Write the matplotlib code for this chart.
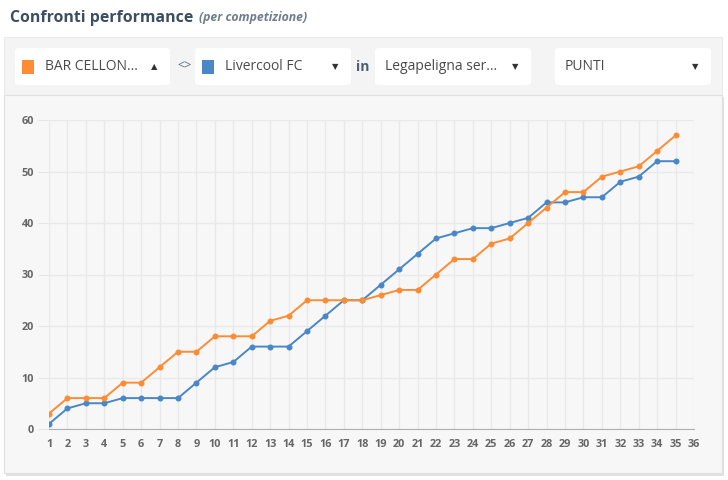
import matplotlib.pyplot as plt
from matplotlib.patches import FancyBboxPatch, Rectangle

plt.rcParams['font.family'] = ['Open Sans', 'DejaVu Sans']

# giornate e punti cumulati
giornate = list(range(1, 36))
punti_bar = [3, 6, 6, 6, 9, 9, 12, 15, 15, 18, 18, 18, 21, 22, 25, 25, 25, 25, 26, 27,
             27, 30, 33, 33, 36, 37, 40, 43, 46, 46, 49, 50, 51, 54, 57]
punti_liver = [1, 4, 5, 5, 6, 6, 6, 6, 9, 12, 13, 16, 16, 16, 19, 22, 25, 25, 28, 31,
               34, 37, 38, 39, 39, 40, 41, 44, 44, 45, 45, 48, 49, 52, 52]
x_ticks = list(range(1, 37))
y_ticks = [0, 10, 20, 30, 40, 50, 60]

ORANGE = '#fd8c34'
BLUE = '#4a87c6'
W, H = 728, 480

fig = plt.figure(figsize=(W / 100, H / 100), dpi=100)
fig.patch.set_facecolor('white')


def fx(x):
    return x / W


def fy(y):
    return 1 - y / H


def box(x0, y0, x1, y1, fc, ec='none', rounded=False, z=0):
    if rounded:
        p = FancyBboxPatch((fx(x0), fy(y1)), fx(x1 - x0), (y1 - y0) / H,
                           boxstyle='round,pad=0,rounding_size=0.006',
                           transform=fig.transFigure, fc=fc, ec=ec, lw=0.8, zorder=z)
    else:
        p = Rectangle((fx(x0), fy(y1)), fx(x1 - x0), (y1 - y0) / H,
                      transform=fig.transFigure, fc=fc, ec=ec, lw=0.8, zorder=z)
    fig.patches.append(p)


# title, with the subtitle placed right after it
title = fig.text(fx(10), fy(18), 'Confronti performance', fontsize=11.4, fontweight='bold',
                 color='#3b4f63', va='center', ha='left')
renderer = fig.canvas.get_renderer()
x_end = title.get_window_extent(renderer).x1
fig.text(fx(x_end + 6), fy(18), '(per competizione)', fontsize=8.8, fontstyle='italic',
         fontweight='bold', color='#6f7e8c', va='center', ha='left')

# controls panel
box(4, 37, 722, 95, '#f4f4f4', '#e9e9e9')
selects = [(15, 170, 'BAR CELLON...', ORANGE, '▲'),
           (195, 351, 'Livercool FC', BLUE, '▼'),
           (375, 531, 'Legapeligna ser...', None, '▼'),
           (555, 711, 'PUNTI', None, '▼')]
for x0, x1, label, col, arrow in selects:
    box(x0, 48, x1, 85, 'white', rounded=True, z=1)
    tx = x0 + 10
    if col is not None:
        box(x0 + 7, 60, x0 + 19, 74, col, z=2)
        tx = x0 + 30
    fig.text(fx(tx), fy(67), label, fontsize=10, color='#4a4a4a', va='center', ha='left', zorder=3)
    fig.text(fx(x1 - 16), fy(67), arrow, fontsize=6, color='#333333', va='center',
             ha='center', family='DejaVu Sans', zorder=3)
fig.text(fx(184), fy(66), '<>', fontsize=9, color='#5a6f86', va='center', ha='center')
fig.text(fx(363), fy(67), 'in', fontsize=10, fontweight='bold', color='#4e5f70',
         va='center', ha='center')

# chart panel
box(6, 97, 724, 476, '#e2e2e2')
box(4, 95, 722, 473, '#f7f7f7', '#e0e0e0')

ax = fig.add_axes([fx(49), fy(429), fx(694 - 49), (429 - 120) / H])
ax.set_zorder(5)
ax.set_facecolor('none')
ax.set_xlim(1, 36)
ax.set_ylim(0, 60)
ax.set_xticks(x_ticks)
ax.set_yticks(y_ticks)
ax.grid(True, color='#e9e9e9', lw=1)
ax.set_axisbelow(True)
for s in ['top', 'right', 'left']:
    ax.spines[s].set_visible(False)
ax.spines['bottom'].set_color('#b0b0b0')
ax.tick_params(axis='x', length=0, pad=7, labelsize=7.8, labelcolor='#666666')
ax.tick_params(axis='y', length=8, color='#e6e6e6', pad=3, labelsize=7.8, labelcolor='#666666')
for lab in ax.get_xticklabels() + ax.get_yticklabels():
    lab.set_fontweight('bold')

ax.plot(giornate, punti_liver, color=BLUE, lw=1.4, marker='o', ms=3.3, zorder=3)
ax.plot(giornate, punti_bar, color=ORANGE, lw=1.4, marker='o', ms=3.3, zorder=4)

fig.savefig('out.png', dpi=100)
